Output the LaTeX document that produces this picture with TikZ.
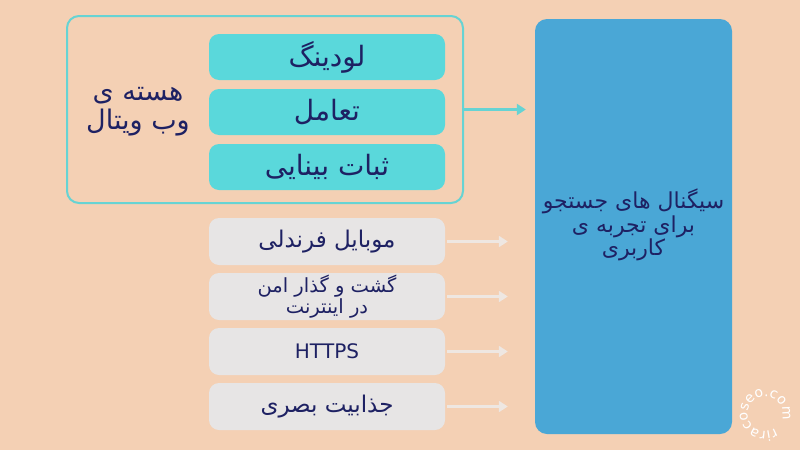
\documentclass[tikz,border=0pt]{standalone}
\usepackage{fontspec}
\newfontfamily\arabicfont[Script=Arabic]{DejaVu Sans}
\newfontfamily\wmfont{DejaVu Sans}
\TeXXeTstate=1
\usetikzlibrary{arrows.meta,decorations.text}
\definecolor{bgc}{HTML}{F4D0B4}
\definecolor{framec}{HTML}{66D3D3}
\definecolor{tealc}{HTML}{5AD8DB}
\definecolor{grayc}{HTML}{E7E5E5}
\definecolor{bluec}{HTML}{4AA7D6}
\definecolor{txtc}{HTML}{1E2163}
\definecolor{garrow}{HTML}{EEE7E2}
\tikzset{
  tealbox/.style={draw=none, fill=tealc, rounded corners=10pt, minimum width=236pt, minimum height=46pt, text=txtc, font=\arabicfont\fontsize{28}{30}\selectfont, align=center, inner sep=0pt},
  graybox/.style={draw=none, fill=grayc, rounded corners=10pt, minimum width=236pt, minimum height=47pt, text=txtc, font=\arabicfont\fontsize{23}{25}\selectfont, align=center, inner sep=0pt},
  tealarrow/.style={draw=framec, line width=2.5pt, -{Triangle[length=9pt,width=11pt]}},
  grayarrow/.style={draw=garrow, line width=3pt, -{Triangle[length=9pt,width=11pt]}}
}
\begin{document}
\begin{tikzpicture}[x=1pt,y=-1pt]
\fill[bgc] (0,0) rectangle (800,450);
\useasboundingbox (0,0) rectangle (800,450);
% frame
\node[draw=framec, line width=2pt, rounded corners=12pt, minimum width=396pt, minimum height=187pt, inner sep=0pt] (frame) at (265,109.5) {};
\node[tealbox] (t1) at (327,57) {\beginR لودینگ\endR};
\node[tealbox] (t2) at (327,112) {\beginR تعامل\endR};
\node[tealbox] (t3) at (327,167) {\beginR ثبات بینایی\endR};
\node[text=txtc, font=\arabicfont\fontsize{27}{29}\selectfont, align=center] (core) at (138,112) {\beginR هسته ی\endR\\ \beginR وب ویتال\endR};
% blue box
\node[fill=bluec, rounded corners=12pt, minimum width=197pt, minimum height=415pt, inner sep=0pt] (blue) at (633.5,226.5) {};
\node[text=txtc, font=\arabicfont\fontsize{22}{23.5}\selectfont, align=center] (bluetxt) at (633.5,225) {\beginR سیگنال های جستجو\endR\\ \beginR برای تجربه ی\endR\\ \beginR کاربری\endR};
% gray boxes
\node[graybox] (g1) at (327,241.5) {\beginR موبایل فرندلی\endR};
\node[graybox, font=\arabicfont\fontsize{19.5}{14.5}\selectfont] (g2) at (327,296.5) {\beginR گشت و گذار امن\endR\\ \beginR در اینترنت\endR};
\node[graybox, font=\arabicfont\fontsize{20}{20}\selectfont] (g3) at (327,351.5) {HTTPS};
\node[graybox] (g4) at (327,406.5) {\beginR جذابیت بصری\endR};
% arrows
\draw[tealarrow, shorten >=9pt] (frame.east) -- (blue.west |- frame.east);
\foreach \g in {g1,g2,g3,g4}{
  \draw[grayarrow, shorten <=2pt, shorten >=27pt] (\g.east) -- (blue.west |- \g.east);
}
% watermark
\begin{scope}[shift={(765,414)}, yscale=-1]
\path[decorate, decoration={text along path, text align=fit to path, text={|\wmfont\fontsize{14}{14}\selectfont\color{white}|riracoseo.com}}]
  (-55:17.5) arc[start angle=-55, end angle=-365, radius=17.5];
\end{scope}
\end{tikzpicture}
\end{document}
